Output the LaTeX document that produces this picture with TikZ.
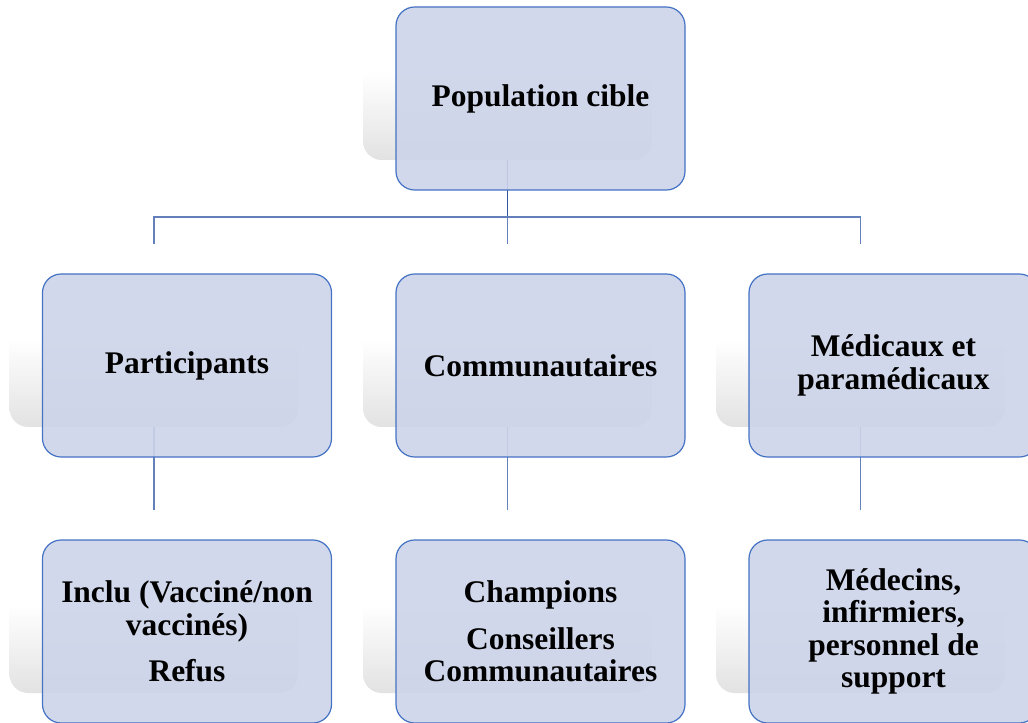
\documentclass[tikz,border=0pt]{standalone}
\usepackage{fontspec}
\setmainfont{Liberation Serif}
\definecolor{boxfill}{RGB}{205,212,233}
\definecolor{boxline}{RGB}{68,114,196}
\definecolor{stemcol}{RGB}{47,85,160}
\definecolor{conncol}{RGB}{100,128,186}
\definecolor{shgray}{RGB}{226,226,226}
\pgfdeclareverticalshading{shfade}{100bp}{color(0bp)=(shgray); color(25bp)=(shgray); color(49bp)=(white); color(100bp)=(white)}
\tikzset{
  box/.style={draw=boxline, line width=0.9pt, fill=boxfill, fill opacity=0.9, text opacity=1,
    rounded corners=14pt, minimum width=216.75pt, minimum height=137.25pt,
    align=center, font=\fontsize{23.6}{24.4}\selectfont\bfseries, inner sep=0pt},
  shbox/.style={rounded corners=14pt, minimum width=216.75pt, minimum height=137.25pt,
    shading=shfade, inner sep=0pt},
  conn/.style={draw=conncol, line width=1.1pt},
  stem/.style={draw=stemcol, line width=1.3pt}
}
\begin{document}
\begin{tikzpicture}[x=0.75pt,y=-0.75pt]
\useasboundingbox (0,0) rectangle (1028,723);
\clip (0,0) rectangle (1028,723);
% shadows
\node[shbox] (topS) at (507.5,68.5) {};
\node[shbox] (pS) at (154,335.5) {};
\node[shbox] (cS) at (507.5,335.5) {};
\node[shbox] (mS) at (860.5,335.5) {};
\node[shbox] (iS) at (154,601.5) {};
\node[shbox] (chS) at (507.5,601.5) {};
\node[shbox] (meS) at (860.5,601.5) {};
% connectors
\coordinate (bus) at (507.5,217);
\draw[stem] (topS.south) -- (topS.south |- bus);
\draw[conn] (pS.north) -- (pS.north |- bus) -- (mS.north |- bus) -- (mS.north);
\draw[conn] (cS.north) -- (cS.north |- bus);
\draw[conn] (pS.south) -- (iS.north);
\draw[conn] (cS.south) -- (chS.north);
\draw[conn] (mS.south) -- (meS.north);
% boxes
\node[box] (top) at (540.5,98.5) {Population cible};
\node[box] (p) at (187,365.5) {Participants};
\node[box] (c) at (540.5,365.5) {Communautaires};
\node[box] (m) at (893.5,365.5) {Médicaux et\\paramédicaux};
\node[box] (i) at (187,631.5) {Inclu (Vacciné/non\\vaccinés)\\[10.5pt]Refus};
\node[box] (ch) at (540.5,631.5) {Champions\\[10.5pt]Conseillers\\Communautaires};
\node[box] (me) at (893.5,631.5) {Médecins,\\infirmiers,\\personnel de\\support};
\end{tikzpicture}
\end{document}
